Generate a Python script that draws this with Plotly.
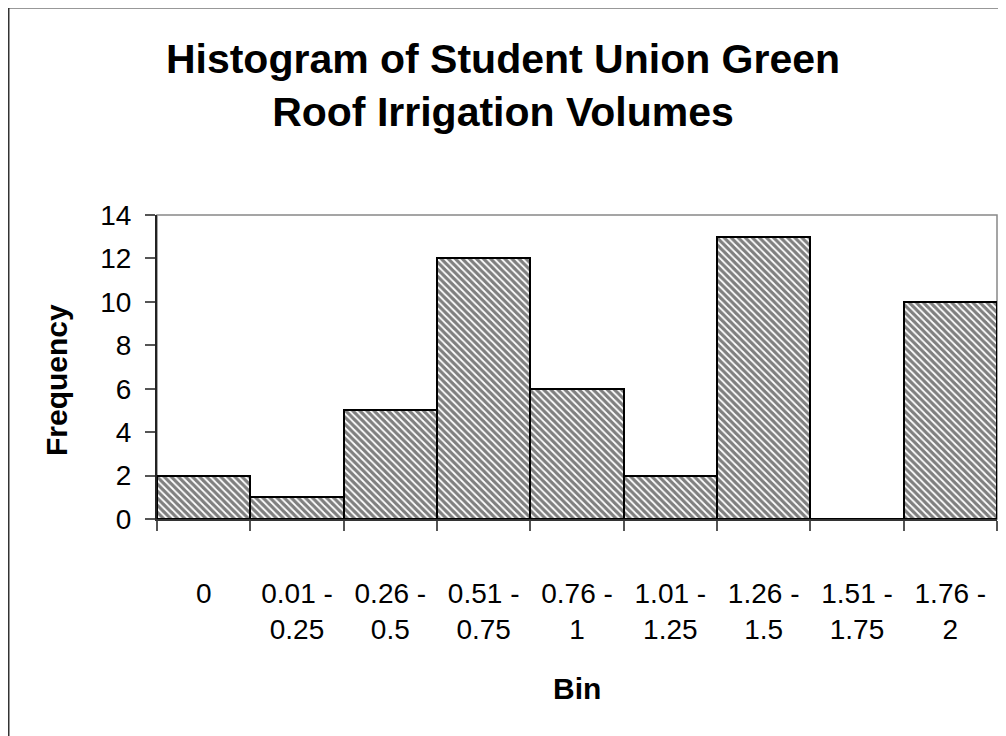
import plotly.graph_objects as go

bins = ["0", "0.01 -<br>0.25", "0.26 -<br>0.5", "0.51 -<br>0.75", "0.76 -<br>1",
        "1.01 -<br>1.25", "1.26 -<br>1.5", "1.51 -<br>1.75", "1.76 -<br>2"]
frequency = [2, 1, 5, 12, 6, 2, 13, 0, 10]
y_ticks = [0, 2, 4, 6, 8, 10, 12, 14]

# The page has an 8px body margin, so the figure is drawn 8px smaller and
# all page-coordinate measurements are shifted by OFF.
OFF = 8
W, H = 1006 - OFF, 736 - OFF
L, R, T, B = 157 - OFF, 9, 215 - OFF, 217
pw, ph = W - L - R, H - T - B

def px_x(x):  # page pixel -> paper x
    return (x - OFF - L) / pw

def px_y(y):  # page pixel -> paper y
    return (H - B - (y - OFF)) / ph

font = "Liberation Sans, Arial, sans-serif"

fig = go.Figure(go.Bar(
    x=bins, y=frequency,
    marker=dict(color="white",
                line=dict(color="black", width=2),
                pattern=dict(shape="\\", fgcolor="black", bgcolor="white",
                             size=5, solidity=0.65)),
    hoverinfo="skip",
))

fig.update_layout(
    width=W, height=H,
    margin=dict(l=L, r=R, t=T, b=B),
    paper_bgcolor="white", plot_bgcolor="white",
    bargap=0, showlegend=False,
    font=dict(family=font, color="black"),
    title=dict(text="<b>Histogram of Student Union Green<br>Roof Irrigation Volumes</b>",
               font=dict(size=41, family=font, color="black"),
               x=(503 - OFF) / W, xref="container", xanchor="center",
               y=1 - 65 / H, yref="container", yanchor="top"),
    xaxis=dict(type="category", showgrid=False, ticks="outside", tickson="boundaries",
               ticklen=10, tickcolor="#555", tickwidth=1.5,
               showline=True, linecolor="#333", linewidth=2,
               tickfont=dict(size=28, family=font, color="black"),
               ticklabelstandoff=48, fixedrange=True),
    yaxis=dict(range=[0, 14], tickvals=y_ticks, showgrid=False, zeroline=False,
               ticks="outside", ticklen=10, tickcolor="#555", tickwidth=1.5,
               showline=True, linecolor="#222", linewidth=2,
               tickfont=dict(size=28, family=font, color="black"),
               ticklabelstandoff=8, fixedrange=True),
    shapes=[
        dict(type="rect", xref="paper", yref="paper", x0=0, x1=1, y0=0, y1=1,
             line=dict(color="#888", width=1.5), layer="below"),
        dict(type="rect", xref="paper", yref="paper",
             x0=px_x(8.5), x1=px_x(1016), y0=px_y(746), y1=px_y(7.5),
             line=dict(color="#333", width=2), layer="below"),
    ],
    annotations=[
        dict(text="<b>Frequency</b>", xref="paper", yref="paper",
             x=px_x(56), y=px_y(380), textangle=-90, showarrow=False,
             xanchor="center", yanchor="middle",
             font=dict(size=30, family=font, color="black")),
        dict(text="<b>Bin</b>", xref="paper", yref="paper",
             x=px_x(577), y=px_y(688), showarrow=False,
             xanchor="center", yanchor="middle",
             font=dict(size=30, family=font, color="black")),
    ],
)

fig.write_html("out.html")
